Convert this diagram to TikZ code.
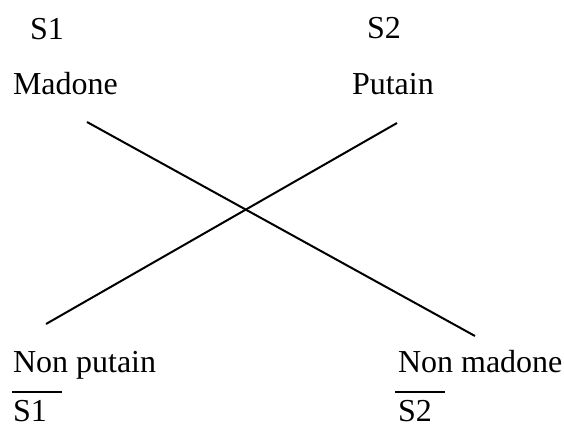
\documentclass[tikz,border=0pt]{standalone}
\usepackage{fontspec}
\setmainfont{Liberation Serif}
\begin{document}
\begin{tikzpicture}[x=1pt,y=-1pt,
  lbl/.style={anchor=base west,inner sep=0pt,outer sep=0pt,font=\fontsize{32}{36}\selectfont},
  axis/.style={line width=2pt},
  bar/.style={line width=1.5pt}]
\useasboundingbox (0,0) rectangle (564,428);
% top labels
\node[lbl] (s1)  at (30,40)  {S1};
\node[lbl] (s2)  at (367,39) {S2};
\node[lbl] (mad) at (13,94)  {Madone};
\node[lbl] (put) at (352,94) {Putain};
% bottom labels
\node[lbl] (nput) at (13,372)  {Non putain};
\node[lbl] (nmad) at (398,372) {Non madone};
\node[lbl] (ns1)  at (13,421)  {S1};
\node[lbl] (ns2)  at (398,421) {S2};
% bars over the negated S1 and S2
\draw[bar] (12,392) -- (62,392);
\draw[bar] (395,392) -- (445,392);
% the two crossing diagonals
\coordinate (a1) at (87,122);
\coordinate (a2) at (475,336);
\coordinate (b1) at (46,324);
\coordinate (b2) at (397,123);
\draw[axis] (a1) -- (a2);
\draw[axis] (b1) -- (b2);
\end{tikzpicture}
\end{document}
